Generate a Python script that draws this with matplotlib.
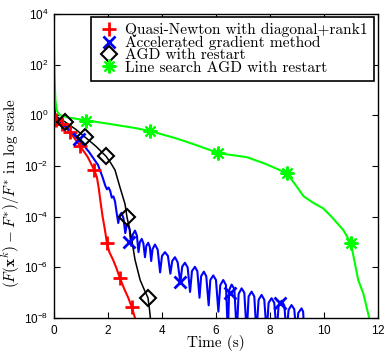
import numpy as np
import matplotlib
matplotlib.use("Agg")
import matplotlib.pyplot as plt

# values as log10 of the relative error
# Quasi-Newton with diagonal+rank1 (red)
qn_t = [0.0, 0.07, 0.30, 0.59, 0.96, 1.25, 1.49, 1.59, 1.66, 1.72, 1.80, 1.89, 1.96,
        2.05, 2.19, 2.30, 2.44, 2.60, 2.75, 2.88, 3.00, 3.03]
qn_log = [-0.10, -0.18, -0.34, -0.66, -1.20, -1.65, -2.16, -2.45, -2.90, -3.40, -4.00, -4.55, -5.04,
          -5.40, -5.71, -6.00, -6.42, -6.85, -7.20, -7.57, -8.00, -8.20]
qn_mk_t = [0.07, 0.30, 0.59, 0.96, 1.49, 1.96, 2.44, 2.88]
qn_mk_log = [-0.18, -0.34, -0.66, -1.20, -2.16, -5.04, -6.42, -7.57]

# Accelerated gradient method (blue), oscillating tail
agd_t = [0.00, 0.02, 0.06, 0.30, 0.60, 0.94, 1.30, 1.63, 1.80, 1.90, 1.96, 2.02, 2.08, 2.14, 2.20,
         2.26, 2.32, 2.38, 2.43, 2.50, 2.57, 2.64, 2.69, 2.74, 2.80, 2.86, 2.92, 3.00, 3.07, 3.13,
         3.18, 3.25, 3.31, 3.37, 3.42, 3.49, 3.55, 3.60, 3.65, 3.74, 3.84, 3.93, 4.00, 4.11, 4.22,
         4.31, 4.38, 4.48, 4.58, 4.68, 4.75, 4.85, 4.95, 5.04, 5.11, 5.22, 5.31, 5.39, 5.45, 5.55,
         5.64, 5.73, 5.79, 5.90, 6.00, 6.09, 6.16, 6.27, 6.37, 6.44, 6.49, 6.58, 6.68, 6.77, 6.84,
         6.95, 7.05, 7.14, 7.21, 7.32, 7.42, 7.50, 7.58, 7.69, 7.79, 7.88, 7.95, 8.06, 8.16, 8.25,
         8.32, 8.43, 8.53, 8.62, 8.69, 8.80, 8.90, 8.98, 9.05, 9.17, 9.23, 9.27]
agd_log = [0.90, 0.20, -0.05, -0.30, -0.62, -0.98, -1.45, -1.96, -2.45, -2.78, -2.92, -2.85, -2.98, -3.25, -3.20,
           -3.40, -3.85, -4.25, -3.95, -3.85, -4.05, -4.65, -4.35, -4.30, -4.50, -5.15, -4.70, -4.55, -4.75, -5.40,
           -5.00, -4.88, -5.05, -5.60, -5.15, -5.03, -5.20, -5.75, -5.28, -5.10, -5.30, -6.20, -5.55, -5.40, -5.55,
           -6.25, -5.75, -5.60, -5.80, -6.60, -5.97, -5.82, -6.00, -6.97, -6.15, -5.98, -6.15, -7.20, -6.35, -6.17,
           -6.35, -7.50, -6.50, -6.32, -6.50, -7.75, -6.70, -6.50, -6.70, -8.60, -6.90, -6.68, -6.85, -8.60, -7.05,
           -6.83, -7.00, -8.60, -7.15, -6.96, -7.15, -8.60, -7.28, -7.09, -7.28, -8.60, -7.40, -7.22, -7.40, -8.60,
           -7.52, -7.32, -7.50, -8.60, -7.68, -7.49, -7.65, -8.60, -7.80, -7.62, -7.75, -8.60]
agd_mk_t = [0.94, 2.78, 4.67, 6.52, 8.38]
agd_mk_log = [-0.92, -5.00, -6.58, -7.01, -7.41]

# AGD with restart (black)
rst_t = [0.00, 0.03, 0.20, 0.41, 0.80, 1.15, 1.55, 1.93, 2.10, 2.26, 2.44, 2.63, 2.70, 2.80,
         2.88, 3.00, 3.19, 3.35, 3.48, 3.53, 3.58]
rst_log = [0.90, 0.00, -0.12, -0.26, -0.55, -0.86, -1.22, -1.62, -1.88, -2.16, -2.83, -3.50, -4.00, -4.50,
           -4.92, -5.70, -6.50, -6.90, -7.20, -7.60, -8.10]
rst_mk_t = [0.41, 1.15, 1.93, 2.70, 3.48]
rst_mk_log = [-0.26, -0.86, -1.62, -4.00, -7.20]

# Line search AGD with restart (green)
ls_t = [0.00, 0.02, 0.05, 0.10, 0.20, 0.50, 1.19, 2.00, 3.00, 3.56, 4.50, 5.20, 5.78, 6.07,
        7.14, 7.80, 8.62, 8.95, 9.25, 9.60, 9.97, 10.28, 10.72, 11.00, 11.27, 11.46, 11.70]
ls_log = [2.70, 1.50, 0.60, 0.20, 0.02, -0.08, -0.20, -0.33, -0.50, -0.62, -0.90, -1.15, -1.37, -1.49,
          -1.65, -1.90, -2.28, -2.75, -3.20, -3.45, -3.67, -4.00, -4.53, -5.05, -6.50, -7.03, -8.10]
ls_mk_t = [1.19, 3.56, 6.07, 8.62, 11.00]
ls_mk_log = [-0.22, -0.62, -1.49, -2.28, -5.05]

labels = ["Quasi-Newton with diagonal+rank1", "Accelerated gradient method",
          "AGD with restart", "Line search AGD with restart"]

plt.rcParams["font.family"] = ["cmr10", "DejaVu Serif"]
plt.rcParams["mathtext.fontset"] = "cm"
plt.rcParams["axes.unicode_minus"] = False
plt.rcParams["axes.formatter.use_mathtext"] = True

fig = plt.figure(figsize=(3.86, 3.52), dpi=100)
ax = fig.add_axes([0.14, 0.0966, 0.839, 0.8636])


def p10(v):
    return 10.0 ** np.asarray(v)


ax.plot(qn_t, p10(qn_log), color=(1, 0, 0), lw=1.5)
ax.plot(agd_t, p10(agd_log), color=(0, 0, 1), lw=1.5)
ax.plot(rst_t, p10(rst_log), color="black", lw=1.1)
ax.plot(ls_t, p10(ls_log), color=(0, 1, 0), lw=1.5)

ax.plot(qn_mk_t, p10(qn_mk_log), ls="none", marker="+", ms=10, mew=2, color=(1, 0, 0), label=labels[0])
ax.plot(agd_mk_t, p10(agd_mk_log), ls="none", marker="x", ms=8, mew=2, color=(0, 0, 1), label=labels[1])
ax.plot(rst_mk_t, p10(rst_mk_log), ls="none", marker="D", ms=8, mew=1.5, mfc="none", color="black", label=labels[2])
ax.plot(ls_mk_t, p10(ls_mk_log), ls="none", marker=(8, 2, 0), ms=10, mew=1.5, color=(0, 1, 0), label=labels[3])

ax.set_yscale("log")
ax.set_xlim(0, 12)
ax.set_ylim(1e-8, 1e4)
ax.set_xticks(range(0, 13, 2))
ax.set_yticks([1e-8, 1e-6, 1e-4, 1e-2, 1e0, 1e2, 1e4])
ax.minorticks_off()
ax.tick_params(direction="in", top=True, right=True, length=4, width=0.8,
               labelsize=8.5, labelfontfamily="Liberation Sans", pad=4)
for s in ax.spines.values():
    s.set_linewidth(1.0)

ax.set_xlabel("Time (s)", fontsize=11, labelpad=-1)
ax.set_ylabel(r"$(F(\mathbf{x}^k) - F^{*})/F^{*}$ in log scale", fontsize=11)
ax.yaxis.set_label_coords(-0.1, 0.41)

leg = ax.legend(loc="upper right", bbox_to_anchor=(0.988, 0.99), borderaxespad=0,
                fontsize=11.1, fancybox=False, framealpha=1, edgecolor="black",
                handlelength=1.56, handletextpad=0.26, labelspacing=-0.1, borderpad=0.4)
leg.get_frame().set_linewidth(1.2)

fig.savefig("out.png", dpi=100)
